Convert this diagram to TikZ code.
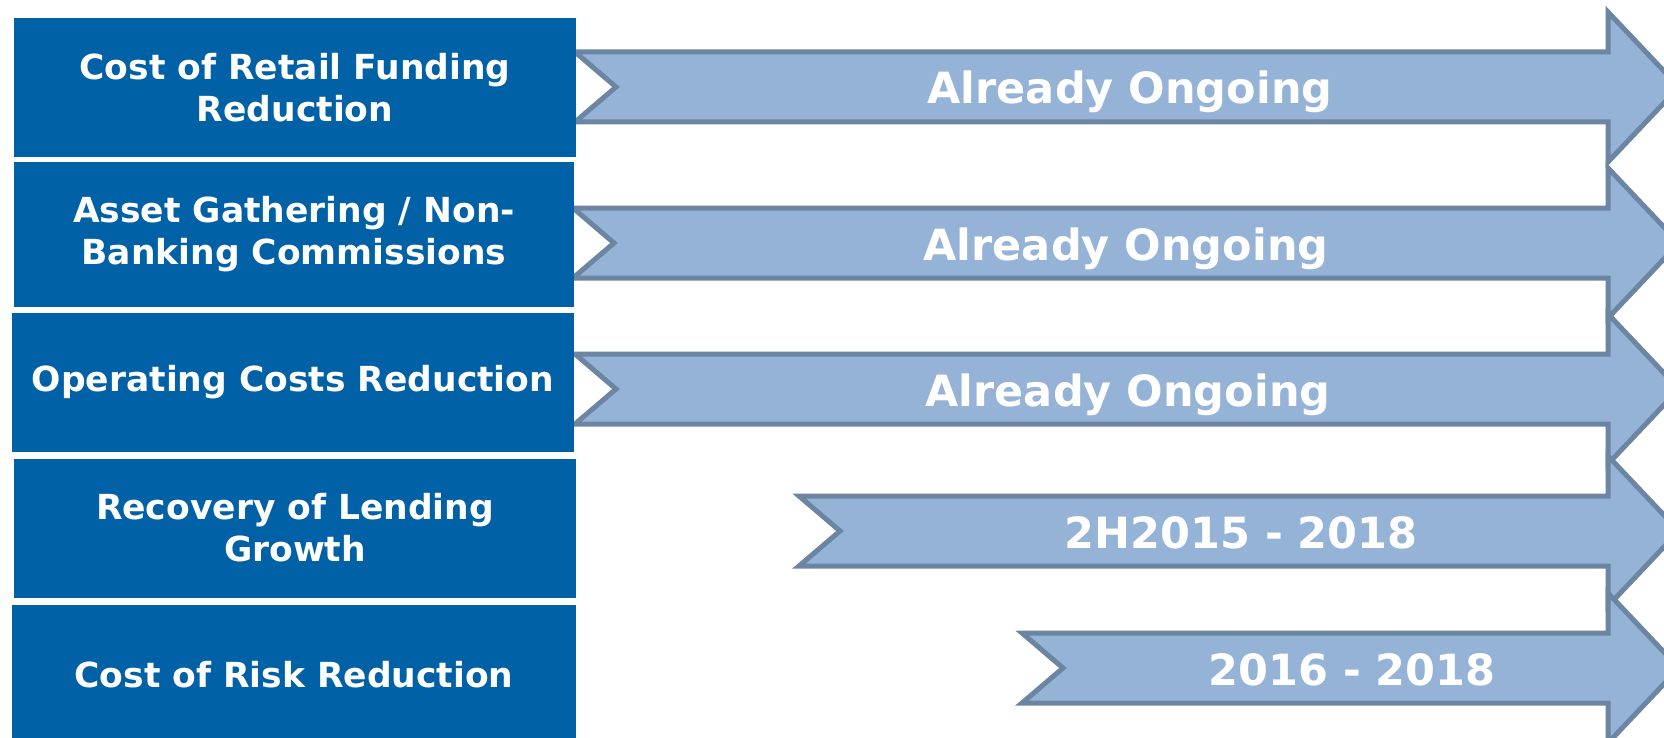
\documentclass[tikz,border=0pt]{standalone}
\usepackage{fontspec}
\setmainfont{DejaVu Sans}
\definecolor{boxblue}{RGB}{0,97,166}
\definecolor{arrfill}{RGB}{149,179,215}
\definecolor{arrline}{RGB}{108,133,162}
\tikzset{
  lbox/.style={fill=boxblue, draw=none, text=white, font=\bfseries\fontsize{34.5}{42}\selectfont, align=center, inner sep=0pt},
  arr/.style={fill=arrfill, draw=arrline, line width=5pt, line join=miter},
  atext/.style={text=white, font=\bfseries\fontsize{43}{50}\selectfont, inner sep=0pt, anchor=base}
}
\newcommand\chevarrow[2]{%
  \draw[arr] (#1,#2-35) -- (1608,#2-35) -- (1608,#2-75) -- (1679,#2) -- (1608,#2+75) -- (1608,#2+35) -- (#1,#2+35) -- (#1+41,#2) -- cycle;}
\begin{document}
\begin{tikzpicture}[x=1pt,y=-1pt]
\useasboundingbox (0,0) rectangle (1664,738);
\clip (0,0) rectangle (1664,738);
% arrows
\chevarrow{575}{87}
\chevarrow{573}{243}
\chevarrow{575}{389}
\chevarrow{799}{531}
\chevarrow{1022}{668}
% arrow labels
\node[atext] (t1) at (1130,104) {Already Ongoing};
\node[atext] (t2) at (1126,260) {Already Ongoing};
\node[atext] (t3) at (1128,406) {Already Ongoing};
\node[atext] (t4) at (1241,548) {2H2015 - 2018};
\node[atext] (t5) at (1352,685) {2016 - 2018};
% left boxes
\node[lbox, minimum width=562pt, minimum height=139pt] (b1) at (295,88) {Cost of Retail Funding\\Reduction};
\node[lbox, minimum width=560pt, minimum height=144pt] (b2) at (294,234.5) {Asset Gathering / Non-\\Banking Commissions};
\node[lbox, minimum width=562pt, minimum height=139pt] (b3) at (293,382.5) {Operating Costs Reduction};
\node[lbox, minimum width=562pt, minimum height=139pt] (b4) at (295,528) {Recovery of Lending\\Growth};
\node[lbox, minimum width=564pt, minimum height=140pt] (b5) at (294,675) {Cost of Risk Reduction};
\end{tikzpicture}
\end{document}
